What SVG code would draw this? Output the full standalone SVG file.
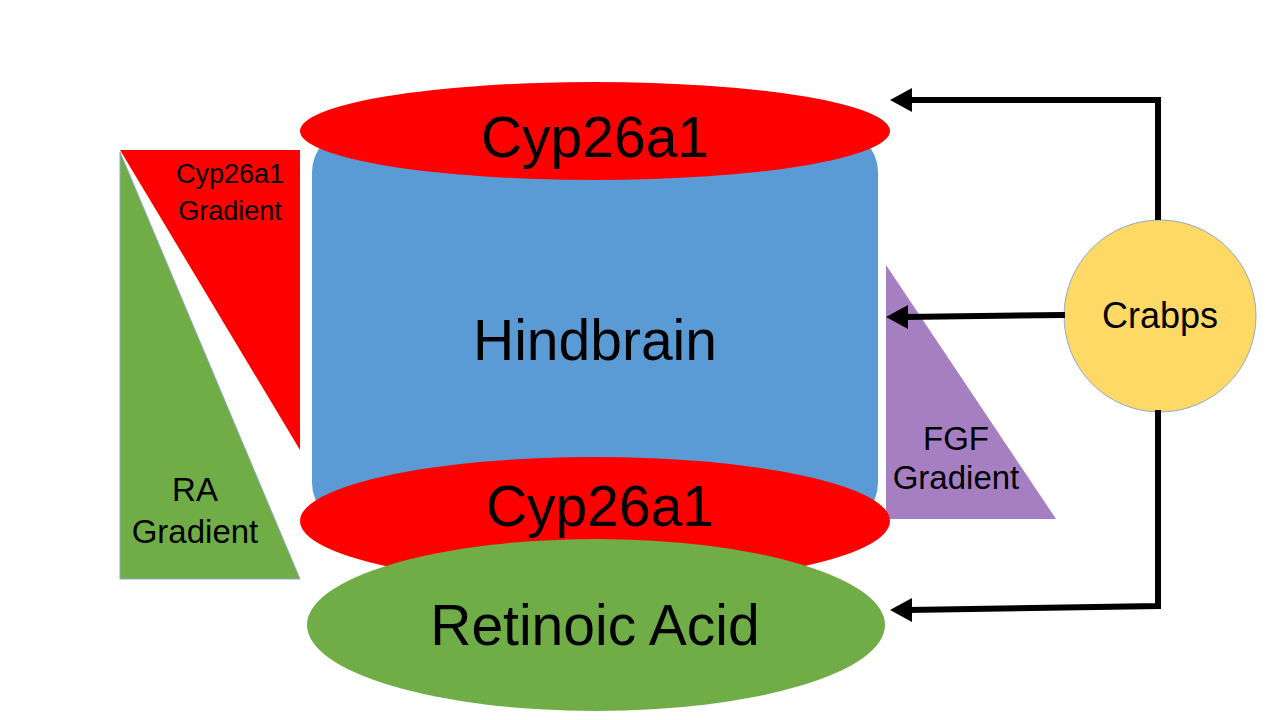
<svg xmlns="http://www.w3.org/2000/svg" width="1280" height="720" viewBox="0 0 1280 720">
<defs>
<style>
text{font-family:"Liberation Sans",Arial,sans-serif;fill:#000;text-anchor:middle}
.big{font-size:57px}
.sm{font-size:27px}
.md{font-size:33px}
.conn{fill:none;stroke:#000;stroke-width:6}
.head{fill:#000}
</style>
</defs>
<rect width="1280" height="720" fill="#fff"/>
<g id="cyp-gradient">
<polygon points="120,150 300,150 300,450" fill="#FF0000"/>
<text class="sm" x="230" y="183">Cyp26a1</text>
<text class="sm" x="230" y="220">Gradient</text>
</g>
<g id="ra-gradient">
<polygon points="120,152 120,579 300,579" fill="#70AD47" stroke="#8FA8C8" stroke-width="1"/>
<text class="md" x="195" y="501">RA</text>
<text class="md" x="195" y="543">Gradient</text>
</g>
<g id="hindbrain">
<rect x="312" y="130" width="566" height="395" rx="42" fill="#5B9BD5"/>
<text class="big" x="595" y="360">Hindbrain</text>
</g>
<g id="cyp-top">
<ellipse cx="595" cy="131" rx="295" ry="49" fill="#FF0000"/>
<text class="big" x="595" y="157">Cyp26a1</text>
</g>
<g id="fgf-gradient">
<polygon points="886,265 886,519 1056,519" fill="#A67FC3"/>
<text class="md" x="956" y="450">FGF</text>
<text class="md" x="956" y="489">Gradient</text>
</g>
<g id="cyp-bottom">
<ellipse cx="595" cy="521" rx="295" ry="64" fill="#FF0000"/>
<text class="big" x="600" y="526">Cyp26a1</text>
</g>
<g id="retinoic-acid">
<ellipse cx="596" cy="625" rx="289" ry="86" fill="#70AD47"/>
<text class="big" x="595" y="645">Retinoic Acid</text>
</g>
<g id="crabps">
<ellipse cx="1160" cy="316" rx="96" ry="96" fill="#FFD966" stroke="#8FA8C8" stroke-width="1"/>
<text x="1160" y="328" style="font-size:36px">Crabps</text>
</g>
<g id="connectors">
<path class="conn" d="M1158,220 L1158,100 L908,100"/>
<polygon class="head" points="890,100 912,88 912,112"/>
<path class="conn" d="M1065,315 L904,317"/>
<polygon class="head" points="886,317 908,305 908,329"/>
<path class="conn" d="M1158,410 L1158,606 L908,610"/>
<polygon class="head" points="890,610 912,598 912,622"/>
</g>
</svg>
